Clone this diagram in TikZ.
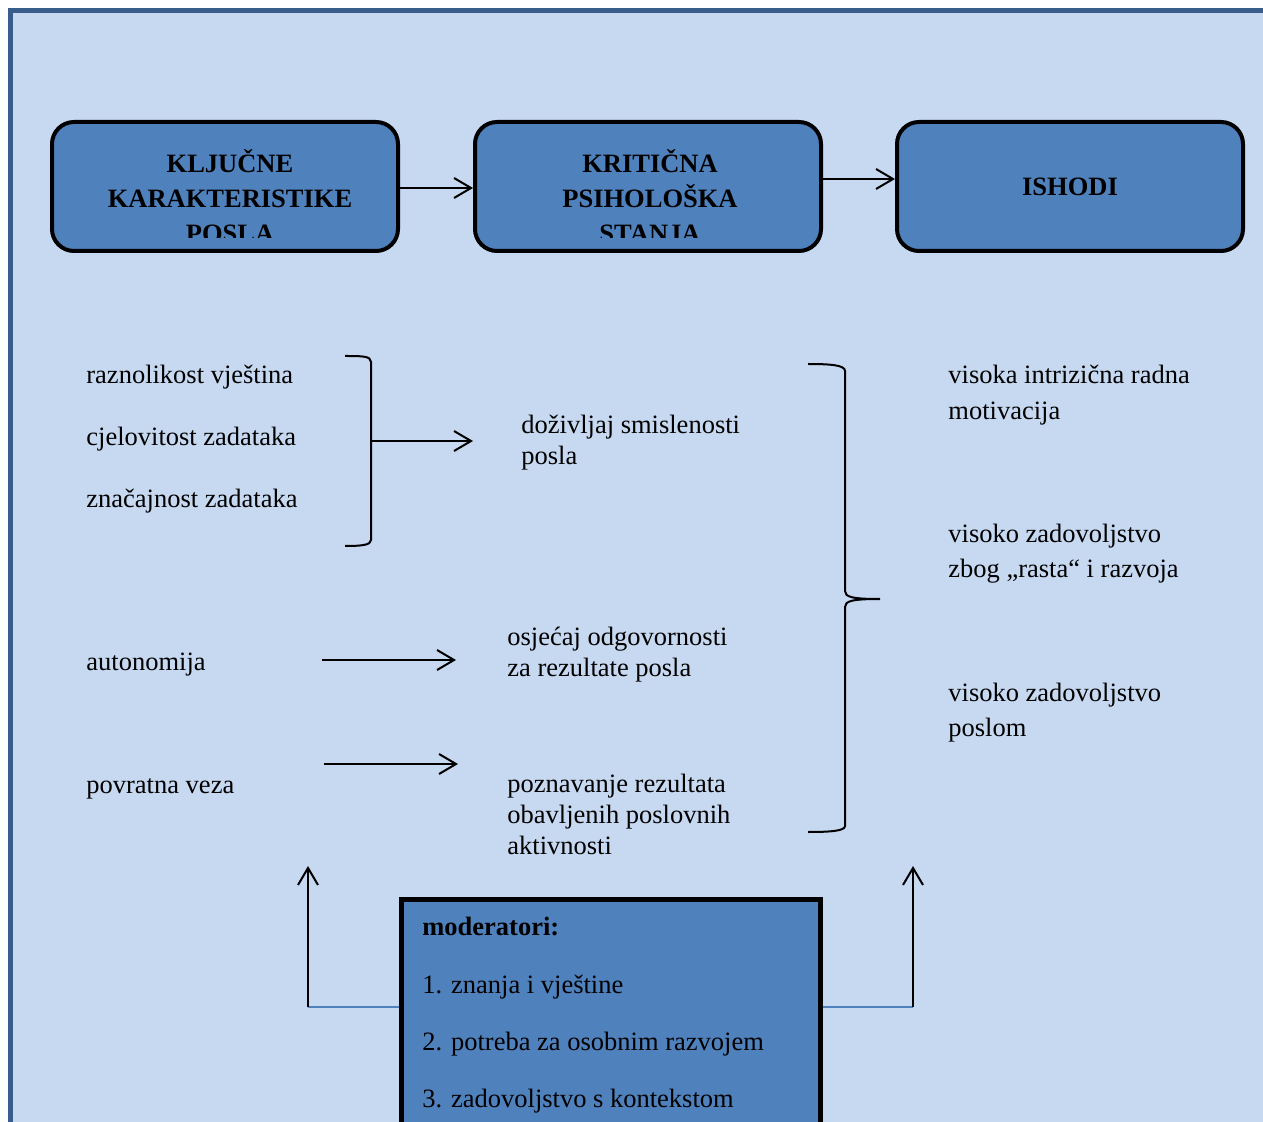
\documentclass[tikz,border=0pt]{standalone}
\usepackage{fontspec}
\setmainfont{Liberation Serif}
\usetikzlibrary{arrows.meta,positioning}
\definecolor{boxblue}{HTML}{4F81BD}
\definecolor{paleblue}{HTML}{C6D9F1}
\definecolor{frameblue}{HTML}{385D8A}
\tikzset{
stage/.style = {draw, line width=2pt, fill=boxblue, rounded corners=11pt, minimum width=173pt, minimum height=64.5pt},
stagetext/.style = {align=center, inner sep=0pt, font=\fontsize{13.25}{17.5}\selectfont\bfseries},
moderbox/.style = {draw, line width=2.5pt, fill=boxblue, minimum width=209.5pt, minimum height=130pt},
item/.style = {align=left, inner sep=0pt, anchor=west, font=\fontsize{13.25}{15.5}\selectfont},
outcome/.style = {item, font=\fontsize{13.25}{17.5}\selectfont},
link/.style = {line width=1pt},
bluelink/.style = {draw=boxblue, line width=0.9pt}
}

\begin{document}
\begin{tikzpicture}[x=0.5pt, y=-0.5pt, >={Straight Barb[length=8.5pt,width=10pt]}]
    \clip (0,0) rectangle (1263,1122);
    \fill[white] (0,0) rectangle (1263,1122);
    % frame
    \draw[frameblue, fill=paleblue, line width=2.25pt] (10.5,10.5) rectangle (1300,1160);

    % top row
    \node[stage] (kljucne) at (225,186.5) {};
    \node[stage, right=36.5pt of kljucne] (kriticna) {};
    \node[stage, right=36pt of kriticna] (ishodi) {};
    \begin{scope}
        \clip (0,0) rectangle (1263,238);
        \node[stagetext] (kljucnetxt) at (230,196.5) {KLJUČNE\\KARAKTERISTIKE\\POSLA};
        \node[stagetext] (kriticnatxt) at (650,196.5) {KRITIČNA\\PSIHOLOŠKA\\STANJA};
    \end{scope}
    \node[stagetext] (ishoditxt) at (1070,187) {ISHODI};
    \draw[link,->] ([yshift=-0.75pt]kljucne.east) -- ([yshift=-0.75pt]kriticna.west);
    \draw[link,->] ([yshift=3.75pt]kriticna.east) -- ([yshift=3.75pt]ishodi.west);

    % job characteristics
    \node[item] (raznolikost) at (86,377) {raznolikost vještina};
    \node[item] (cjelovitost) at (86,439) {cjelovitost zadataka};
    \node[item] (znacajnost) at (86,501) {značajnost zadataka};
    \node[item] (autonomija) at (86,665) {autonomija};
    \node[item] (povratna) at (86,789) {povratna veza};

    % psychological states
    \node[item] (smislenost) at (521,443) {doživljaj smislenosti\\posla};
    \node[item] (odgovornost) at (507,655) {osjećaj odgovornosti\\za rezultate posla};
    \node[item] (poznavanje) at (507,814) {poznavanje rezultata\\obavljenih poslovnih\\aktivnosti};

    % outcomes
    \node[outcome, font=\fontsize{13.25}{18}\selectfont] (motivacija) at (948,395) {visoka intrizična radna\\motivacija};
    \node[outcome] (razvoj) at (948,554) {visoko zadovoljstvo\\zbog „rasta“ i razvoja};
    \node[outcome] (posao) at (948,713) {visoko zadovoljstvo\\poslom};

    % brackets and arrows
    \coordinate (b1) at (371,441);
    \coordinate (b1tip) at (473,441);
    \coordinate (a1) at (322,660);
    \coordinate (a1tip) at (456,660);
    \coordinate (p1) at (324,764);
    \coordinate (p1tip) at (458,764);
    \draw[link] (345,356) .. controls (362,356) and (371,356) .. (371,362) -- (371,540) .. controls (371,545) and (362,546) .. (345,546);
    \draw[link] (808,364) .. controls (830,364) and (845,365) .. (845,371) -- (845,591) .. controls (845,597) and (852,599) .. (880,599) .. controls (852,599) and (845,601) .. (845,607) -- (845,826) .. controls (845,831) and (830,832) .. (808,832);
    \draw[link,->] (b1) -- (b1tip);
    \draw[link,->] (a1) -- (a1tip);
    \draw[link,->] (p1) -- (p1tip);

    % moderators
    \node[moderbox, anchor=north west] (modbox) at (399,897) {};
    \node[item, anchor=north west, font=\fontsize{13.25}{28.67}\selectfont] (modlist) at (422,917) {\textbf{moderatori:}\\1. znanja i vještine\\2. potreba za osobnim razvojem\\3. zadovoljstvo s kontekstom};
    \coordinate (lft) at (308,1007);
    \coordinate (lfttop) at (308,866);
    \coordinate (rgt) at (913,1007);
    \coordinate (rgttop) at (913,866);
    \draw[bluelink] (modbox.west |- lft) -- (lft);
    \draw[link,->] (lft) -- (lfttop);
    \draw[bluelink] (modbox.east |- rgt) -- (rgt);
    \draw[link,->] (rgt) -- (rgttop);
\end{tikzpicture}
\end{document}
